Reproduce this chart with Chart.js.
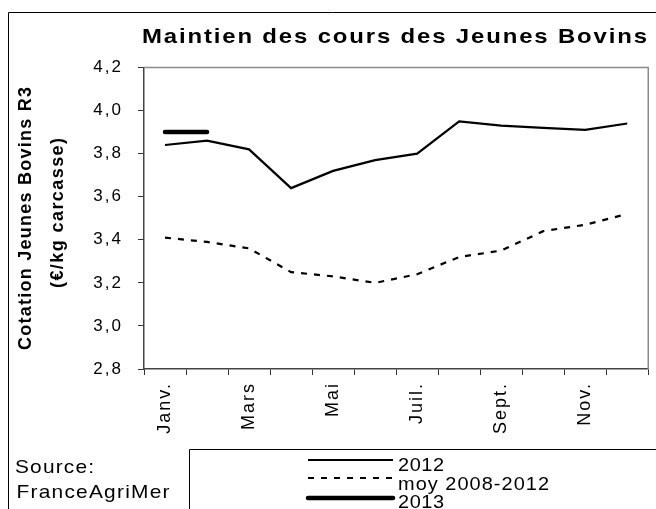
<!DOCTYPE html>
<html>
<head>
<meta charset="utf-8">
<script src="https://cdn.jsdelivr.net/npm/chart.js@4.4.0/dist/chart.umd.min.js"></script>
<style>
  html, body { margin: 0; padding: 0; background: #fff; }
  #wrap { width: 656px; height: 509px; }
</style>
</head>
<body>
<div id="wrap"><canvas id="cours"></canvas></div>
<script>
// valeurs (€/kg carcasse)
const mois = ['Janv.', 'Févr.', 'Mars', 'Avr.', 'Mai', 'Juin', 'Juil.', 'Août', 'Sept.', 'Oct.', 'Nov.', 'Déc.'];
const cours2012 = [3.84, 3.86, 3.82, 3.64, 3.72, 3.77, 3.80, 3.95, 3.93, 3.92, 3.91, 3.94];
const moy2008_2012 = [3.41, 3.39, 3.36, 3.25, 3.23, 3.20, 3.24, 3.32, 3.35, 3.44, 3.47, 3.52];
const cours2013 = [3.90, 3.90];
const yMin = 2.8, yMax = 4.2, yStep = 0.2;

const FONT = "'Liberation Sans', Arial, sans-serif";
Chart.defaults.font.family = FONT;
Chart.defaults.color = '#000';

// texte etale (et un peu elargi) pour tenir dans une largeur donnee, comme dans l'original
function spacedText(ctx, text, x, y, width, sx) {
  sx = sx || 1;
  ctx.save();
  ctx.translate(x, y);
  ctx.scale(sx, 1);
  ctx.letterSpacing = '0px';
  const nat = ctx.measureText(text).width;
  const sp = text.length > 1 ? (width / sx - nat) / (text.length - 1) : 0;
  ctx.letterSpacing = sp + 'px';
  ctx.textAlign = 'left';
  ctx.fillText(text, 0, 0);
  ctx.restore();
}

const decor = {
  id: 'decor',
  beforeDraw(chart) {
    chart.ctx.letterSpacing = '2px';
  },
  afterDraw(chart) {
    const ctx = chart.ctx;
    const a = chart.chartArea;
    ctx.save();
    ctx.letterSpacing = '0px';
    ctx.fillStyle = '#000';

    // cadre exterieur
    ctx.strokeStyle = '#000';
    ctx.lineWidth = 1;
    ctx.beginPath();
    ctx.moveTo(8.5, 509);
    ctx.lineTo(8.5, 12.5);
    ctx.lineTo(656, 12.5);
    ctx.stroke();

    // bords haut et droit de la zone de tracé
    ctx.strokeStyle = '#8a8a8a';
    ctx.lineWidth = 1.5;
    ctx.beginPath();
    ctx.moveTo(a.left, a.top);
    ctx.lineTo(a.right, a.top);
    ctx.lineTo(a.right, a.bottom);
    ctx.stroke();

    // titre
    ctx.font = 'bold 21px ' + FONT;
    ctx.textBaseline = 'alphabetic';
    spacedText(ctx, 'Maintien des cours des Jeunes Bovins', 142, 43, 505, 1.14);

    // titre de l'axe vertical
    ctx.font = 'bold 18px ' + FONT;
    ctx.textBaseline = 'middle';
    ctx.save();
    ctx.translate(26, 218.5);
    ctx.rotate(-Math.PI / 2);
    spacedText(ctx, 'Cotation Jeunes Bovins R3', -131.5, 0, 263);
    ctx.restore();
    ctx.save();
    ctx.translate(58, 213);
    ctx.rotate(-Math.PI / 2);
    spacedText(ctx, '(€/kg carcasse)', -75, 0, 150);
    ctx.restore();

    // source
    ctx.font = '19px ' + FONT;
    ctx.textBaseline = 'alphabetic';
    spacedText(ctx, 'Source:', 15, 473, 79, 1.1);
    spacedText(ctx, 'FranceAgriMer', 16.5, 497.5, 153, 1.1);

    // legende
    ctx.strokeStyle = '#000';
    ctx.lineWidth = 1;
    ctx.beginPath();
    ctx.moveTo(189.5, 509);
    ctx.lineTo(189.5, 449.5);
    ctx.lineTo(656, 449.5);
    ctx.stroke();

    const rows = [
      { ly: 460, ty: 471, w: 46 },
      { ly: 478, ty: 489.5, w: 151 },
      { ly: 498, ty: 508, w: 46 }
    ];
    chart.data.datasets.forEach((ds, i) => {
      const r = rows[i];
      ctx.save();
      ctx.strokeStyle = ds.borderColor;
      ctx.lineWidth = ds.borderWidth;
      ctx.lineCap = ds.borderCapStyle || 'butt';
      ctx.setLineDash(ds.borderDash || []);
      ctx.beginPath();
      ctx.moveTo(308, r.ly);
      ctx.lineTo(393, r.ly);
      ctx.stroke();
      ctx.restore();
      ctx.font = '19px ' + FONT;
      spacedText(ctx, ds.label, 398, r.ty, r.w, 1.05);
    });

    ctx.restore();
  }
};

const ctx = document.getElementById('cours').getContext('2d');
const myChart = new Chart(ctx, {
  type: 'line',
  data: {
    labels: mois,
    datasets: [{
      label: '2012',
      data: cours2012,
      borderColor: '#000',
      borderWidth: 2.2,
      pointRadius: 0,
      tension: 0
    }, {
      label: 'moy 2008-2012',
      data: moy2008_2012,
      borderColor: '#000',
      borderWidth: 2.2,
      borderDash: [6, 7],
      pointRadius: 0,
      tension: 0
    }, {
      label: '2013',
      data: cours2013,
      borderColor: '#000',
      borderWidth: 4.5,
      borderCapStyle: 'round',
      pointRadius: 0,
      tension: 0
    }]
  },
  options: {
    responsive: true,
    maintainAspectRatio: false,
    animation: false,
    layout: {
      padding: { top: 67.5, right: 3.5, left: 0, bottom: 0 }
    },
    scales: {
      x: {
        offset: true,
        grid: {
          offset: true,
          drawOnChartArea: false,
          tickLength: 6,
          tickWidth: 1,
          tickColor: '#333'
        },
        border: { color: '#444', width: 1.5 },
        ticks: {
          autoSkip: false,
          maxRotation: 90,
          minRotation: 90,
          padding: 7,
          font: { size: 18 },
          callback: function (v, i) {
            return i % 2 === 0 ? mois[i] : '';
          }
        },
        afterFit(scale) { scale.height = 140; }
      },
      y: {
        min: yMin,
        max: yMax,
        grid: {
          drawOnChartArea: false,
          tickLength: 6,
          tickWidth: 1,
          tickColor: '#333'
        },
        border: { color: '#444', width: 1.5 },
        ticks: {
          stepSize: yStep,
          padding: 15,
          font: { size: 17 },
          callback: function (v) {
            return v.toFixed(1).replace('.', ',');
          }
        },
        afterFit(scale) { scale.width = 144; }
      }
    },
    plugins: {
      legend: { display: false },
      title: { display: false },
      tooltip: { enabled: false }
    }
  },
  plugins: [decor]
});
</script>
</body>
</html>
